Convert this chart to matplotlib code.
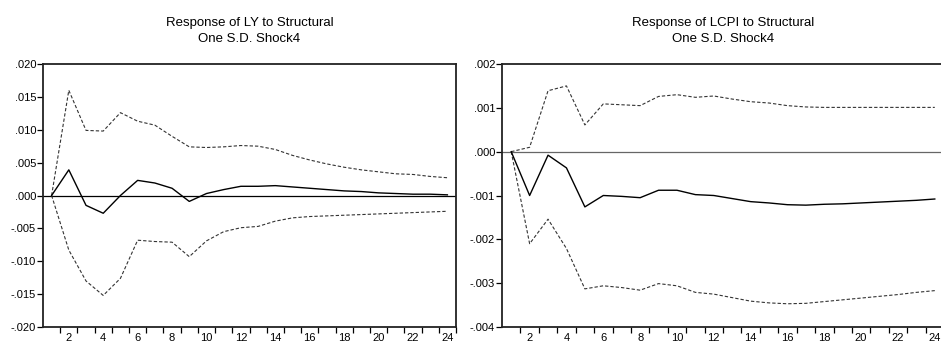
import numpy as np
import matplotlib
matplotlib.use("Agg")
import matplotlib.pyplot as plt
from matplotlib.ticker import FuncFormatter, FixedLocator

# ============================================================
# DATOS
# ============================================================

periodos = np.arange(1, 25)

ly_resp = [0.0, 0.0039, -0.0015, -0.0027, 0.0000, 0.0023, 0.0019, 0.0011,
           -0.0009, 0.0003, 0.0009, 0.0014, 0.0014, 0.0015, 0.0013, 0.0011,
           0.0009, 0.0007, 0.0006, 0.0004, 0.0003, 0.0002, 0.0002, 0.0001]
ly_sup = [0.0, 0.0160, 0.0099, 0.0098, 0.0126, 0.0113, 0.0107, 0.0090,
          0.0074, 0.0073, 0.0074, 0.0076, 0.0075, 0.0070, 0.0061, 0.0054,
          0.0048, 0.0043, 0.0039, 0.0036, 0.0033, 0.0032, 0.0029, 0.0027]
ly_inf = [0.0, -0.0083, -0.0130, -0.0152, -0.0126, -0.0068, -0.0070, -0.0071,
          -0.0093, -0.0069, -0.0055, -0.0049, -0.0047, -0.0039, -0.0034, -0.0032,
          -0.0031, -0.0030, -0.0029, -0.0028, -0.0027, -0.0026, -0.0025, -0.0024]

lcpi_resp = [0.0, -0.00100, -0.00008, -0.00037, -0.00126, -0.00100, -0.00102, -0.00105,
             -0.00088, -0.00088, -0.00098, -0.00100, -0.00107, -0.00114, -0.00117, -0.00121,
             -0.00122, -0.00120, -0.00119, -0.00117, -0.00115, -0.00113, -0.00111, -0.00108]
lcpi_sup = [0.0, 0.00010, 0.00139, 0.00150, 0.00061, 0.00109, 0.00107, 0.00105,
            0.00126, 0.00130, 0.00124, 0.00127, 0.00120, 0.00114, 0.00111, 0.00105,
            0.00102, 0.00101, 0.00101, 0.00101, 0.00101, 0.00101, 0.00101, 0.00101]
lcpi_inf = [0.0, -0.00210, -0.00154, -0.00221, -0.00313, -0.00306, -0.00310, -0.00316,
            -0.00301, -0.00306, -0.00321, -0.00325, -0.00333, -0.00341, -0.00345, -0.00347,
            -0.00346, -0.00342, -0.00338, -0.00334, -0.00330, -0.00326, -0.00321, -0.00317]

titulo_ly = "Response of LY to Structural\nOne S.D. Shock4"
titulo_lcpi = "Response of LCPI to Structural\nOne S.D. Shock4"

yticks_ly = [-0.020, -0.015, -0.010, -0.005, 0.000, 0.005, 0.010, 0.015, 0.020]
yticks_lcpi = [-0.004, -0.003, -0.002, -0.001, 0.000, 0.001, 0.002]

# ============================================================
# FIGURA
# ============================================================

plt.rcParams["font.family"] = ["Liberation Sans", "DejaVu Sans"]

fig = plt.figure(figsize=(9.41, 3.45), dpi=100)


def fmt_eviews(v, pos):
    s = "%.3f" % v
    if abs(v) < 1e-12:
        return ".000"
    return s.replace("0.", ".", 1)


def panel(rect, resp, sup, inf, titulo, yticks, color_cero):
    ax = fig.add_axes(rect)
    ax.plot(periodos, sup, color="#333333", lw=0.8, linestyle=(0, (3, 1.8)))
    ax.plot(periodos, inf, color="#333333", lw=0.8, linestyle=(0, (3, 1.8)))
    ax.plot(periodos, resp, color="black", lw=1.0)
    ax.axhline(0, color=color_cero, lw=0.9, zorder=1)

    ax.set_xlim(0.5, 24.5)
    ax.set_ylim(yticks[0], yticks[-1])

    # etiquetas en pares, marcas entre observaciones
    ax.xaxis.set_major_locator(FixedLocator(np.arange(2, 25, 2)))
    ax.xaxis.set_minor_locator(FixedLocator(np.arange(1.5, 24.6, 1)))
    ax.tick_params(axis="x", which="major", length=0, pad=4, labelsize=8)
    ax.tick_params(axis="x", which="minor", length=4, width=0.9, direction="out")

    ax.set_yticks(yticks)
    ax.yaxis.set_major_formatter(FuncFormatter(fmt_eviews))
    ax.tick_params(axis="y", length=4, width=0.9, direction="out", pad=1, labelsize=8)

    for lado, sp in ax.spines.items():
        sp.set_color("#222222")
        sp.set_linewidth(1.3)

    ax.set_title(titulo, fontsize=9.5, pad=16, linespacing=1.4)
    return ax


panel([43 / 941, 18 / 345, 413 / 941, 263 / 345], ly_resp, ly_sup, ly_inf,
      titulo_ly, yticks_ly, "black")
panel([502 / 941, 18 / 345, 442 / 941, 263 / 345], lcpi_resp, lcpi_sup, lcpi_inf,
      titulo_lcpi, yticks_lcpi, "#666666")

fig.savefig("out.png", dpi=100)
